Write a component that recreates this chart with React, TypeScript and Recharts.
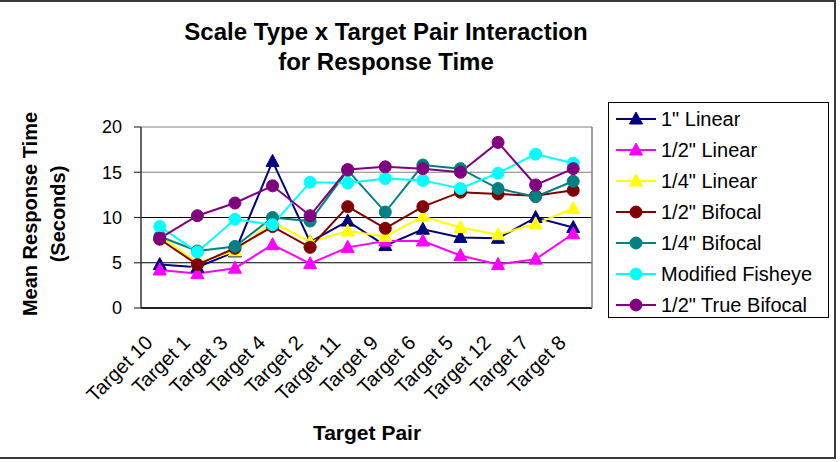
import React from "react";
import { LineChart, Line, XAxis, YAxis, CartesianGrid } from "recharts";

const targets = [
  "Target 10", "Target 1", "Target 3", "Target 4", "Target 2", "Target 11",
  "Target 9", "Target 6", "Target 5", "Target 12", "Target 7", "Target 8",
];

const linear1 = [4.8, 4.5, 6.2, 16.2, 7.3, 9.6, 6.9, 8.7, 7.8, 7.7, 10.0, 8.9];
const linearHalf = [4.2, 3.8, 4.4, 7.0, 4.9, 6.7, 7.4, 7.4, 5.8, 4.8, 5.4, 8.2];
const linearQuarter = [8.0, 5.0, 6.3, 9.5, 7.3, 8.5, 7.9, 10.1, 8.9, 8.1, 9.3, 11.0];
const bifocalHalf = [7.6, 4.8, 6.6, 9.0, 6.7, 11.2, 8.8, 11.2, 12.8, 12.6, 12.4, 13.0];
const bifocalQuarter = [7.9, 6.3, 6.8, 10.0, 9.6, 15.2, 10.6, 15.8, 15.4, 13.2, 12.3, 14.0];
const fisheye = [9.0, 6.2, 9.8, 9.2, 13.9, 13.8, 14.3, 14.1, 13.2, 14.9, 17.0, 16.0];
const trueBifocal = [7.7, 10.2, 11.6, 13.5, 10.2, 15.3, 15.6, 15.4, 15.0, 18.3, 13.6, 15.4];

const yTicks = [0, 5, 10, 15, 20];
const edgeTicks = targets.map((_, i) => i).concat(targets.length);
const centerTicks = targets.map((_, i) => i + 0.5);

const series = [
  { key: "linear1", name: '1" Linear', color: "#000080", shape: "triangle", values: linear1 },
  { key: "linearHalf", name: '1/2" Linear', color: "#ff00ff", shape: "triangle", values: linearHalf },
  { key: "linearQuarter", name: '1/4" Linear', color: "#ffff00", shape: "triangle", values: linearQuarter },
  { key: "bifocalHalf", name: '1/2" Bifocal', color: "#800000", shape: "circle", values: bifocalHalf },
  { key: "bifocalQuarter", name: '1/4" Bifocal', color: "#008080", shape: "circle", values: bifocalQuarter },
  { key: "fisheye", name: "Modified Fisheye", color: "#00ffff", shape: "circle", values: fisheye },
  { key: "trueBifocal", name: '1/2" True Bifocal', color: "#800080", shape: "circle", values: trueBifocal },
];

const data = targets.map((t, i) => {
  const row: Record<string, number | string> = { target: t, x: i + 0.5 };
  series.forEach((s) => {
    row[s.key] = s.values[i];
  });
  return row;
});

const FONT = "'Liberation Sans', Arial, sans-serif";

function Marker({ cx, cy, color, shape }: { cx: number; cy: number; color: string; shape: string }) {
  if (shape === "triangle") {
    return <path d={`M${cx},${cy - 7}L${cx + 6.5},${cy + 5}L${cx - 6.5},${cy + 5}Z`} fill={color} stroke={color} />;
  }
  return <circle cx={cx} cy={cy} r={6} fill={color} stroke={color} />;
}

// category names sit between the boundary ticks, slanted up to the right
function TargetTick(props: any) {
  const { x, y, payload } = props;
  const label = targets[Math.floor(payload.value)];
  return (
    <text
      x={x - 6}
      y={y + 35}
      transform={`rotate(-45, ${x - 6}, ${y + 35})`}
      textAnchor="end"
      fontFamily={FONT}
      fontSize={20}
      fill="#000"
    >
      {label}
    </text>
  );
}

function GridLine(props: any) {
  const { x1, y1, x2, y2, index } = props;
  return <line key={`g${index}`} x1={x1} y1={y1} x2={x2} y2={y2} stroke={index >= 3 ? "#808080" : "#000"} strokeWidth={1.2} />;
}

function LegendBox() {
  return (
    <div
      style={{
        position: "absolute",
        left: 608,
        top: 102,
        width: 221,
        height: 216,
        boxSizing: "border-box",
        border: "1.5px solid #000",
        background: "#fff",
      }}
    >
      {series.map((s, i) => (
        <div
          key={s.key}
          style={{ position: "absolute", left: 6, top: 16 + 31 * i - 12, height: 24, display: "flex", alignItems: "center" }}
        >
          <svg width={42} height={24}>
            <line x1={1} y1={12} x2={41} y2={12} stroke={s.color} strokeWidth={2} />
            <Marker cx={21} cy={12} color={s.color} shape={s.shape} />
          </svg>
          <span style={{ marginLeft: 4, fontFamily: FONT, fontSize: 20, color: "#000", whiteSpace: "nowrap" }}>{s.name}</span>
        </div>
      ))}
    </div>
  );
}

export default function App() {
  return (
    <div style={{ position: "absolute", left: 0, top: 0, width: 840, height: 462, background: "#fff", overflow: "hidden" }}>
      <LineChart width={840} height={462} data={data} margin={{ top: 127, right: 247, bottom: 0, left: 81 }}>
        <CartesianGrid vertical={false} horizontal={GridLine} />
        <XAxis
          xAxisId="edge"
          type="number"
          dataKey="x"
          domain={[0, 12]}
          ticks={edgeTicks}
          interval={0}
          tick={false}
          tickSize={7}
          height={1}
          axisLine={{ stroke: "#000", strokeWidth: 1.5 }}
          tickLine={{ stroke: "#000", strokeWidth: 1.2 }}
        />
        <XAxis
          xAxisId="label"
          type="number"
          dataKey="x"
          domain={[0, 12]}
          ticks={centerTicks}
          interval={0}
          axisLine={false}
          tickLine={false}
          tickSize={0}
          tickMargin={0}
          height={153}
          tick={<TargetTick />}
        />
        <YAxis
          type="number"
          domain={[0, 20]}
          ticks={yTicks}
          interval={0}
          width={60}
          tickSize={7}
          tickMargin={12}
          axisLine={{ stroke: "#333", strokeWidth: 1.5 }}
          tickLine={{ stroke: "#333", strokeWidth: 1.2 }}
          tick={{ fill: "#000", fontSize: 18, fontFamily: FONT }}
        />
        <YAxis
          yAxisId="frame"
          orientation="right"
          type="number"
          domain={[0, 20]}
          width={1}
          tick={false}
          tickLine={false}
          axisLine={{ stroke: "#808080", strokeWidth: 1.5 }}
        />
        {series.map((s) => (
          <Line
            key={s.key}
            xAxisId="edge"
            dataKey={s.key}
            name={s.name}
            stroke={s.color}
            strokeWidth={2}
            isAnimationActive={false}
            dot={(p: any) => <Marker key={`${s.key}-${p.index}`} cx={p.cx} cy={p.cy} color={s.color} shape={s.shape} />}
          />
        ))}
      </LineChart>

      <svg width={840} height={462} style={{ position: "absolute", left: 0, top: 0, pointerEvents: "none" }}>
        <g fontFamily={FONT} fontWeight="bold" fill="#000">
          <text x={386} y={40} textAnchor="middle" fontSize={24}>Scale Type x Target Pair Interaction</text>
          <text x={386} y={70} textAnchor="middle" fontSize={24}>for Response Time</text>
          <text x={37} y={214} textAnchor="middle" fontSize={20} transform="rotate(-90, 37, 214)">Mean Response Time</text>
          <text x={65} y={214} textAnchor="middle" fontSize={20} transform="rotate(-90, 65, 214)">(Seconds)</text>
          <text x={367} y={440} textAnchor="middle" fontSize={21}>Target Pair</text>
        </g>
      </svg>

      <LegendBox />

      <div
        style={{
          position: "absolute",
          left: -3,
          top: 0,
          width: 839,
          height: 459,
          boxSizing: "border-box",
          border: "2px solid #3a3a3a",
          pointerEvents: "none",
        }}
      />
    </div>
  );
}
